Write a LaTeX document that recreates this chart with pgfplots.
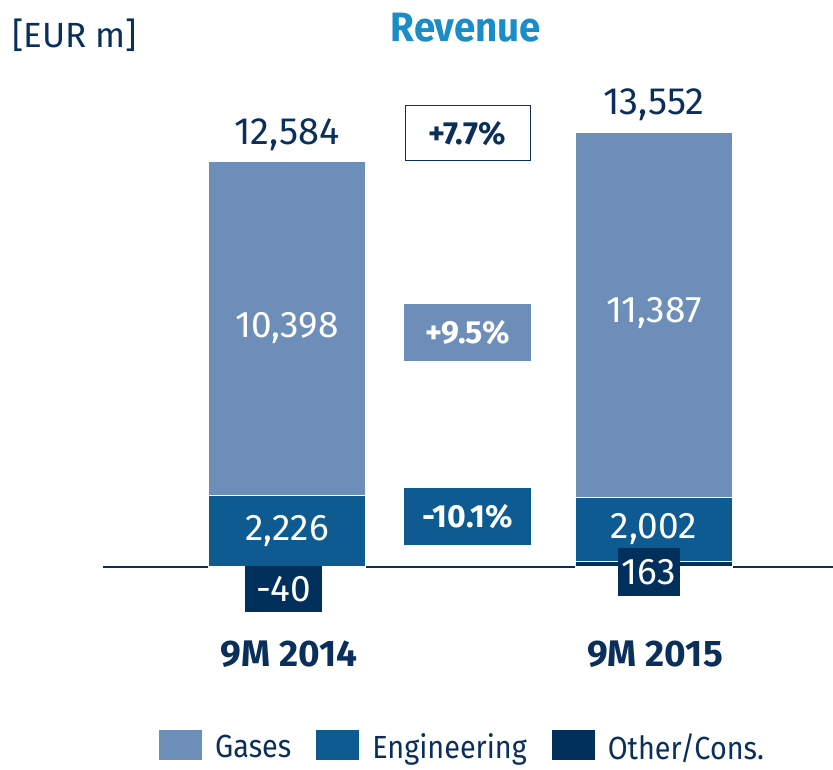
\documentclass[border=0pt]{standalone}
\usepackage{fontspec}
\setmainfont{Fira Sans}[FakeStretch=0.9]
\newfontfamily\nf{Fira Sans}
\newfontfamily\tf{Fira Sans}[FakeStretch=0.94]
\usepackage{pgfplots}
\pgfplotsset{compat=1.18}
\definecolor{gases}{HTML}{6E8EBA}
\definecolor{eng}{HTML}{0E5B92}
\definecolor{oth}{HTML}{02305C}
\definecolor{navy}{HTML}{0B2F5B}
\definecolor{cyanT}{HTML}{1A8CC8}
\newcommand{\fs}[1]{\fontsize{#1}{#1}\selectfont}
\begin{document}
\begin{tikzpicture}
\begin{axis}[
  scale only axis, width=833pt, height=769pt,
  xmin=-0.782, xmax=1.488, ymin=-6293, ymax=17664,
  axis lines=none, clip=false,
  ybar stacked, bar width=157pt,
  reverse legend,
  legend image code/.code={\fill[#1,draw=none] (0pt,-13pt) rectangle (43pt,17pt);},
  legend style={at={(axis cs:-0.3488,-5560)}, anchor=west, draw=none, fill=none,
    inner sep=0pt, legend columns=3, font=\fs{32}, text=navy,
    /tikz/every even column/.append style={column sep=25pt},
    /tikz/every odd column/.append style={column sep=13pt},
    nodes={inner sep=0pt}},
]
\addplot[fill=oth, draw=white, line width=1.2pt] coordinates {(0,-40) (1,163)};
\addplot[fill=eng, draw=white, line width=1.2pt] coordinates {(0,2226) (1,2002)};
\addplot[fill=gases, draw=white, line width=1.2pt] coordinates {(0,10398) (1,11387)};
\legend{Other/Cons., Engineering, Gases}

\draw[navy, line width=1.5pt] (axis cs:-0.501,0) -- (axis cs:1.488,0);

\coordinate (ll) at (rel axis cs:0,0);
\coordinate (ur) at (rel axis cs:1,1);
\coordinate (t14) at (axis cs:0,13458);
\coordinate (t15) at (axis cs:1,14393);
\coordinate (g14) at (axis cs:0,7445);
\coordinate (g15) at (axis cs:1,7913);
\coordinate (e14) at (axis cs:0,1121);
\coordinate (e15) at (axis cs:1,1184);
\coordinate (o14) at (axis cs:-0.0095,-685);
\coordinate (o15) at (axis cs:0.986,-156);
\coordinate (p1) at (axis cs:0.492,13505);
\coordinate (p2) at (axis cs:0.492,7305);
\coordinate (p3) at (axis cs:0.492,1573);
\coordinate (c14) at (axis cs:0.005,-2710);
\coordinate (c15) at (axis cs:1.003,-2710);
\coordinate (tt) at (axis cs:0.488,16791);
\coordinate (eur) at (axis cs:-0.749,16573);
\end{axis}

\node[font=\nf\fs{38}, text=navy] at (t14) {12,584};
\node[font=\nf\fs{38}, text=navy] at (t15) {13,552};
\node[font=\nf\fs{37}, text=white] at (g14) {10,398};
\node[font=\nf\fs{37}, text=white] at (g15) {11,387};
\node[font=\nf\fs{37}, text=white] at (e14) {2,226};
\node[font=\nf\fs{37}, text=white] at (e15) {2,002};
\node[font=\nf\fs{37}, text=white, fill=oth, minimum width=77pt, minimum height=46pt, inner sep=0pt] at (o14) {-40};
\node[font=\nf\fs{37}, text=white, fill=oth, minimum width=62pt, minimum height=48pt, inner sep=0pt] at (o15) {163};

\node[draw=navy, line width=1pt, fill=white, minimum width=125pt, minimum height=55pt, inner sep=0pt, font=\nf\bfseries\fs{32}, text=navy] at (p1) {+7.7\%};
\node[fill=gases, minimum width=127pt, minimum height=57pt, inner sep=0pt, font=\nf\bfseries\fs{32}, text=white] at (p2) {+9.5\%};
\node[fill=eng, minimum width=127pt, minimum height=57pt, inner sep=0pt, font=\nf\bfseries\fs{32}, text=white] at (p3) {-10.1\%};

\node[font=\nf\bfseries\fs{37}, text=navy] at (c14) {9M 2014};
\node[font=\nf\bfseries\fs{37}, text=navy] at (c15) {9M 2015};

\node[font=\tf\bfseries\fs{41}, text=cyanT] at (tt) {Revenue};
\node[font=\nf\fs{35}, text=navy, anchor=west, inner sep=0pt] at (eur) {[EUR m]};

\pgfresetboundingbox
\path (ll) rectangle (ur);
\end{tikzpicture}
\end{document}
